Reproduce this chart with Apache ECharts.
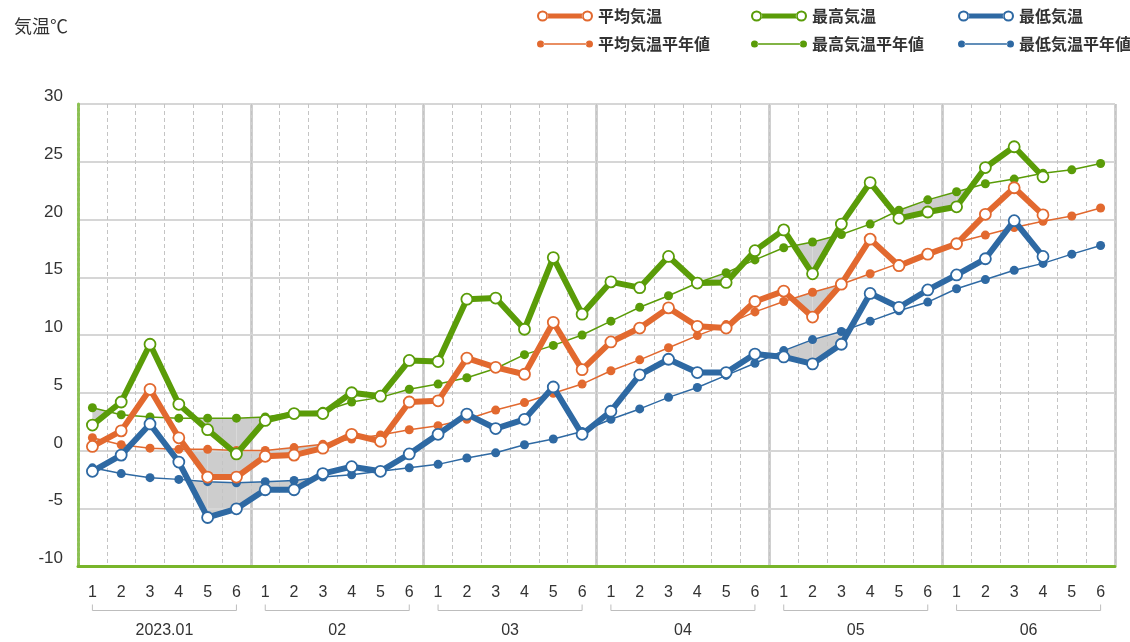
<!DOCTYPE html>
<html>
<head>
<meta charset="utf-8">
<script src="https://cdn.jsdelivr.net/npm/echarts@6/dist/echarts.min.js"></script>
<style>
html,body{margin:0;padding:0;background:#fff;}
#chart{width:1130px;height:642px;}
</style>
</head>
<body>
<div id="chart"></div>
<script>
// ---- data ----
const months = ['2023.01', '02', '03', '04', '05', '06'];
const pentads = ['1', '2', '3', '4', '5', '6'];
const yTicks = { min: -10, max: 30, interval: 5 };

const meanTemp = [0.35, 1.7, 5.3, 1.1, -2.3, -2.3,
  -0.5, -0.4, 0.2, 1.4, 0.8, 4.2,
  4.3, 8.0, 7.2, 6.6, 11.1, 7.0,
  9.4, 10.6, 12.35, 10.75, 10.6, 12.9,
  13.8, 11.55, 14.4, 18.3, 16.0, 17.0,
  17.9, 20.45, 22.75, 20.4, null, null];
const maxTemp = [2.2, 4.2, 9.2, 4.0, 1.8, -0.3,
  2.6, 3.2, 3.2, 5.0, 4.7, 7.8,
  7.7, 13.1, 13.2, 10.5, 16.7, 11.8,
  14.6, 14.1, 16.8, 14.5, 14.55, 17.3,
  19.1, 15.3, 19.6, 23.2, 20.1, 20.65,
  21.1, 24.5, 26.3, 23.7, null, null];
const minTemp = [-1.8, -0.4, 2.3, -1.0, -5.8, -5.05,
  -3.4, -3.4, -2.0, -1.4, -1.8, -0.3,
  1.4, 3.15, 1.9, 2.7, 5.5, 1.4,
  3.4, 6.55, 7.9, 6.75, 6.75, 8.35,
  8.1, 7.5, 9.2, 13.6, 12.4, 13.9,
  15.2, 16.6, 19.9, 16.8, null, null];
const meanNormal = [1.1, 0.5, 0.2, 0.1, 0.1, 0.0,
  0.0, 0.25, 0.55, 1.0, 1.35, 1.8,
  2.15, 2.7, 3.5, 4.15, 4.95, 5.75,
  6.9, 7.85, 8.9, 9.95, 10.9, 12.0,
  12.9, 13.7, 14.4, 15.3, 16.2, 17.0,
  18.0, 18.65, 19.3, 19.85, 20.3, 21.0];
const maxNormal = [3.7, 3.1, 2.9, 2.8, 2.8, 2.8,
  2.9, 3.3, 3.4, 4.2, 4.6, 5.3,
  5.75, 6.3, 7.1, 8.3, 9.1, 10.0,
  11.2, 12.4, 13.4, 14.5, 15.4, 16.5,
  17.55, 18.05, 18.7, 19.6, 20.8, 21.7,
  22.4, 23.1, 23.5, 24.0, 24.3, 24.85];
const minNormal = [-1.5, -2.0, -2.35, -2.5, -2.7, -2.8,
  -2.7, -2.6, -2.3, -2.1, -1.8, -1.5,
  -1.2, -0.65, -0.2, 0.5, 1.0, 1.65,
  2.7, 3.6, 4.6, 5.45, 6.5, 7.55,
  8.65, 9.6, 10.3, 11.2, 12.1, 12.85,
  14.0, 14.8, 15.6, 16.2, 17.0, 17.75];

// ---- styling ----
const C_MEAN = '#e2692f';
const C_MAX = '#5a9c08';
const C_MIN = '#2e69a3';
const NUM_FONT = '"Liberation Sans", Arial, sans-serif';
const JP_FONT = '"Noto Sans CJK JP", sans-serif';

const categories = [];
months.forEach((m, mi) => pentads.forEach(p => categories.push(mi + '-' + p)));

const ICON_ACTUAL = 'path://M0.5 6 A5.5 5.5 0 1 0 11.5 6 A5.5 5.5 0 1 0 0.5 6 Z M2.5 6 A3.5 3.5 0 1 1 9.5 6 A3.5 3.5 0 1 1 2.5 6 Z ' +
  'M11 3.5 L45 3.5 L45 8.5 L11 8.5 Z ' +
  'M44.5 6 A5.5 5.5 0 1 0 55.5 6 A5.5 5.5 0 1 0 44.5 6 Z M46.5 6 A3.5 3.5 0 1 1 53.5 6 A3.5 3.5 0 1 1 46.5 6 Z';
const ICON_NORMAL = 'path://M0.5 6 A3.5 3.5 0 1 0 7.5 6 A3.5 3.5 0 1 0 0.5 6 Z ' +
  'M7 5.3 L49 5.3 L49 6.7 L7 6.7 Z ' +
  'M48.5 6 A3.5 3.5 0 1 0 55.5 6 A3.5 3.5 0 1 0 48.5 6 Z';

function actualSeries(name, data, color) {
  return {
    name, type: 'line', data, z: 5,
    symbol: 'circle', symbolSize: 11, showAllSymbol: true,
    lineStyle: { color, width: 6 },
    itemStyle: { color: '#fff', borderColor: color, borderWidth: 1.8 },
    emphasis: { disabled: true }
  };
}
function normalSeries(name, data, color) {
  return {
    name, type: 'line', data, z: 4,
    symbol: 'circle', symbolSize: 9, showAllSymbol: true,
    lineStyle: { color, width: 1.5 },
    itemStyle: { color },
    emphasis: { disabled: true }
  };
}
function deficitSeries(actual, normal) {
  return {
    type: 'custom', xAxisIndex: 0, yAxisIndex: 0, silent: true, z: 2,
    data: actual.slice(0, actual.length - 1).map((v, i) => [i, 0]),
    renderItem(params, api) {
      const i = params.dataIndex;
      const a0 = actual[i], a1 = actual[i + 1], n0 = normal[i], n1 = normal[i + 1];
      if (a0 == null || a1 == null || n0 == null || n1 == null) return null;
      const d0 = n0 - a0, d1 = n1 - a1;
      if (d0 <= 0 && d1 <= 0) return null;
      const A0 = api.coord([i, a0]), A1 = api.coord([i + 1, a1]);
      const N0 = api.coord([i, n0]), N1 = api.coord([i + 1, n1]);
      let pts;
      if (d0 > 0 && d1 > 0) pts = [A0, A1, N1, N0];
      else {
        const t = d0 / (d0 - d1);
        const Cp = [A0[0] + t * (A1[0] - A0[0]), A0[1] + t * (A1[1] - A0[1])];
        pts = d0 > 0 ? [A0, Cp, N0] : [Cp, A1, N1];
      }
      return { type: 'polygon', shape: { points: pts }, style: { fill: '#cdcdcd' } };
    }
  };
}
const bracketSeries = {
  type: 'custom', xAxisIndex: 0, yAxisIndex: 0, silent: true, clip: false, z: 1,
  data: months.map((m, k) => [k * pentads.length, yTicks.min]),
  renderItem(params, api) {
    const k = params.dataIndex;
    const n = pentads.length;
    const p0 = api.coord([k * n, yTicks.min]);
    const p1 = api.coord([k * n + n - 1, yTicks.min]);
    const y = Math.round(p0[1] + 44) + 0.5;
    return {
      type: 'polyline',
      shape: { points: [[p0[0], y - 6], [p0[0], y], [p1[0], y], [p1[0], y - 6]] },
      style: { stroke: '#bdbdbd', lineWidth: 1, fill: null }
    };
  }
};

function legendCol(left, a, b, color) {
  return {
    left, top: 3, orient: 'vertical', itemGap: 12, itemWidth: 56, itemHeight: 12,
    itemTextGap: 9, symbolKeepAspect: true, selectedMode: false,
    textStyle: { fontSize: 16, fontWeight: 'bold', color: '#333', fontFamily: JP_FONT },
    data: [
      { name: a, icon: ICON_ACTUAL, itemStyle: { color, borderWidth: 0 } },
      { name: b, icon: ICON_NORMAL, itemStyle: { color, borderWidth: 0 } }
    ]
  };
}

const chart = echarts.init(document.getElementById('chart'), null, { renderer: 'canvas' });
chart.setOption({
  animation: false,
  backgroundColor: '#fff',
  title: {
    text: '気温℃', left: 9, top: 12,
    textStyle: { fontSize: 18, fontWeight: 'normal', color: '#333', fontFamily: JP_FONT }
  },
  legend: [
    legendCol(532, '平均気温', '平均気温平年値', C_MEAN),
    legendCol(746, '最高気温', '最高気温平年値', C_MAX),
    legendCol(953, '最低気温', '最低気温平年値', C_MIN)
  ],
  grid: { left: 78, right: 15, top: 104, bottom: 76, containLabel: false },
  xAxis: [
    {
      type: 'category', data: categories, boundaryGap: true,
      axisLine: { show: true, onZero: false, lineStyle: { color: '#78b52a', width: 3 } },
      axisTick: { show: false },
      axisLabel: {
        interval: 0, margin: 19, fontSize: 16, color: '#333', fontFamily: NUM_FONT,
        formatter: v => pentads[Number(v.split('-')[1]) - 1]
      },
      splitLine: { show: true, interval: 0, lineStyle: { color: '#c4c4c4', width: 1, type: [4, 3] } },
      z: 3
    },
    {
      type: 'category', data: months, boundaryGap: true, position: 'bottom', offset: 45,
      axisLine: { show: false, onZero: false }, axisTick: { show: false },
      axisLabel: { interval: 0, margin: 12, fontSize: 16, color: '#333', fontFamily: NUM_FONT },
      splitLine: { show: true, interval: 0, lineStyle: { color: '#d0d0d0', width: 3 } }
    }
  ],
  yAxis: {
    type: 'value', min: yTicks.min, max: yTicks.max, interval: yTicks.interval,
    axisLine: { show: true, lineStyle: { color: '#8cc152', width: 3, type: [3, 2] } },
    axisTick: { show: false },
    axisLabel: { margin: 15, fontSize: 17, color: '#333', fontFamily: NUM_FONT, verticalAlign: 'bottom', lineHeight: 15 },
    splitLine: { show: true, lineStyle: { color: '#d6d6d6', width: 2 } },
    z: 3
  },
  series: [
    deficitSeries(meanTemp, meanNormal),
    deficitSeries(maxTemp, maxNormal),
    deficitSeries(minTemp, minNormal),
    bracketSeries,
    normalSeries('平均気温平年値', meanNormal, C_MEAN),
    normalSeries('最高気温平年値', maxNormal, C_MAX),
    normalSeries('最低気温平年値', minNormal, C_MIN),
    actualSeries('平均気温', meanTemp, C_MEAN),
    actualSeries('最高気温', maxTemp, C_MAX),
    actualSeries('最低気温', minTemp, C_MIN)
  ]
});
</script>
</body>
</html>
